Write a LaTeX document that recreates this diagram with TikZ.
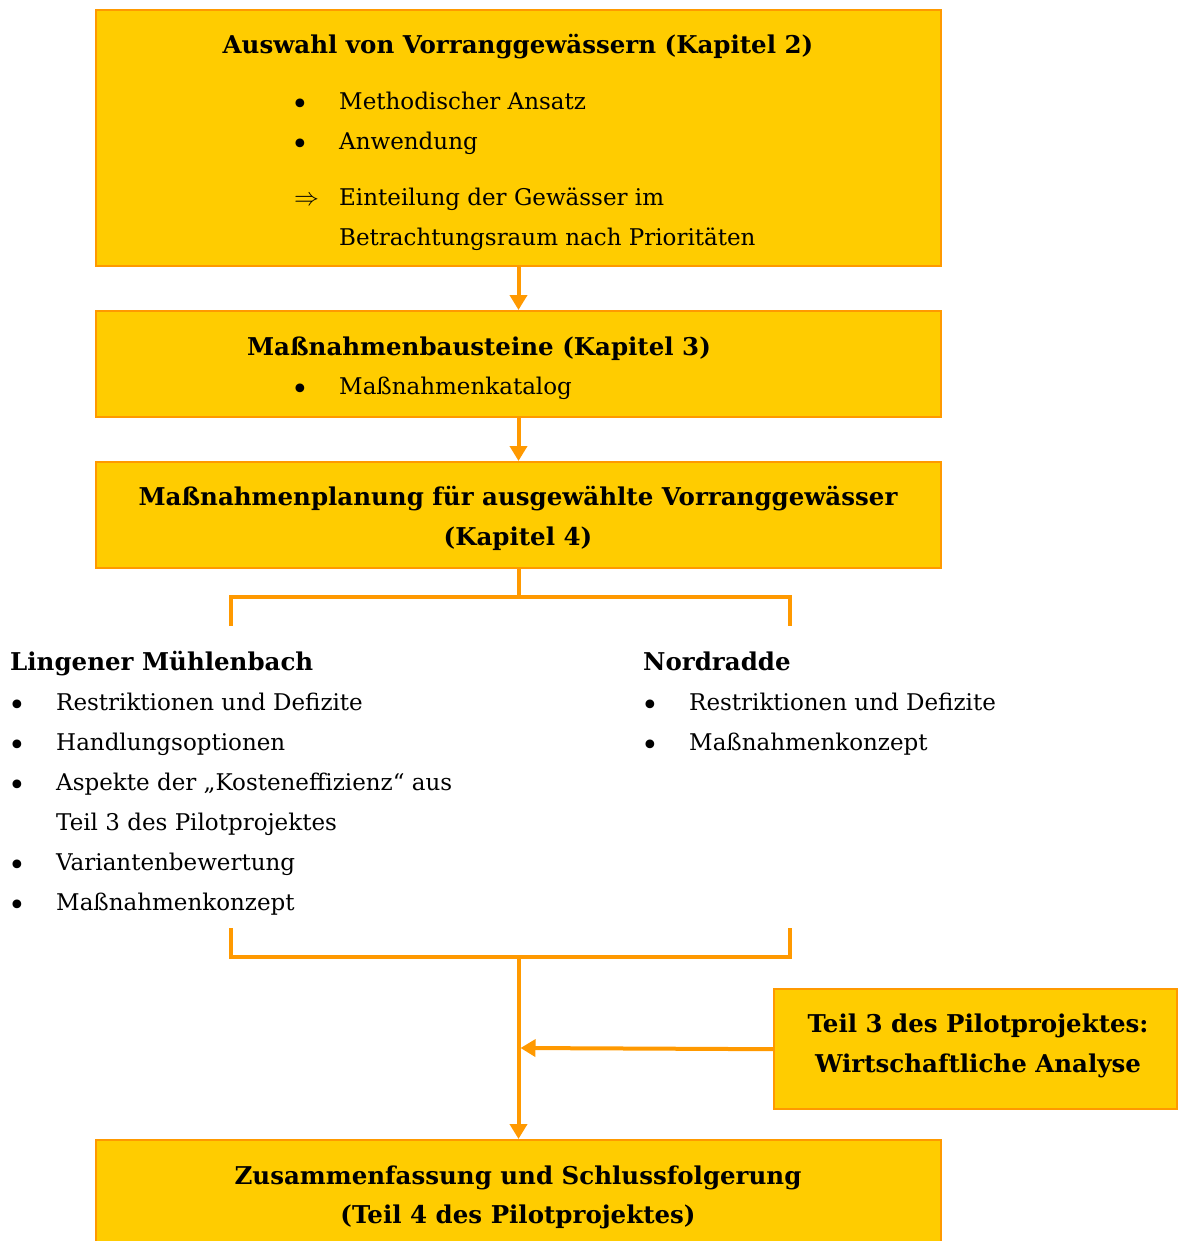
\documentclass[tikz,border=0pt]{standalone}
\usepackage{fontspec}
\setmainfont{DejaVu Serif}
\usetikzlibrary{arrows.meta,positioning}
\definecolor{boxyellow}{HTML}{FFCC00}
\definecolor{lineorange}{HTML}{FF9900}

\begin{document}
\begin{tikzpicture}[x=1pt,y=-1pt,
    box/.style={rectangle, draw=lineorange, fill=boxyellow, line width=2.4pt, anchor=north, inner sep=0pt},
    txt/.style={font=\fontsize{23}{27}\selectfont, anchor=mid west, inner sep=0pt, yshift=-6pt},
    head/.style={font=\fontsize{24.5}{29}\selectfont\bfseries, anchor=mid, inner sep=0pt, yshift=-6pt},
    bul/.style={font=\fontsize{30}{34}\selectfont, anchor=mid, inner sep=0pt, yshift=-11pt},
    conn/.style={draw=lineorange, line width=4pt},
    arrow/.style={conn, -{Triangle[width=17pt,length=15pt]}}
]
\useasboundingbox (0,0) rectangle (1177,1241);

\node[box, minimum width=845pt, minimum height=256pt] (auswahl) at (518.5,9) {};
\node[box, minimum width=845pt, minimum height=106pt] (bausteine) at (518.5,310) {};
\node[box, minimum width=845pt, minimum height=106pt] (planung) at (518.5,461) {};
\node[box, minimum width=403pt, minimum height=120pt] (teil3) at (975.5,988) {};
\node[box, minimum width=845pt, minimum height=120pt] (fazit) at (518.5,1139) {};

\node[head] (auswahlT) at (518,45) {Auswahl von Vorranggewässern (Kapitel 2)};
\node[bul] (a1b) at (300,101) {•};
\node[txt] (a1) at (339,101) {Methodischer Ansatz};
\node[bul] (a2b) at (300,141) {•};
\node[txt] (a2) at (339,141) {Anwendung};
\node[txt, font=\fontsize{23}{27}\selectfont] (a3b) at (294,197) {$\Rightarrow$};
\node[txt] (a3) at (339,197) {Einteilung der Gewässer im};
\node[txt] (a4) at (339,237) {Betrachtungsraum nach Prioritäten};

\node[head] (bausteineT) at (479,347) {Maßnahmenbausteine (Kapitel 3)};
\node[bul] (b1b) at (300,386) {•};
\node[txt] (b1) at (339,386) {Maßnahmenkatalog};

\node[head] (planungT) at (518,497) {Maßnahmenplanung für ausgewählte Vorranggewässer};
\node[head] (planungK) at (518,537) {(Kapitel 4)};

\node[head, anchor=mid west] (lingen) at (10,662) {Lingener Mühlenbach};
\node[bul] (l1b) at (17,702) {•};
\node[txt] (l1) at (56,702) {Restriktionen und Defizite};
\node[bul] (l2b) at (17,742) {•};
\node[txt] (l2) at (56,742) {Handlungsoptionen};
\node[bul] (l3b) at (17,782) {•};
\node[txt] (l3) at (56,782) {Aspekte der „Kosteneffizienz“ aus};
\node[txt] (l4) at (56,822) {Teil 3 des Pilotprojektes};
\node[bul] (l5b) at (17,862) {•};
\node[txt] (l5) at (56,862) {Variantenbewertung};
\node[bul] (l6b) at (17,902) {•};
\node[txt] (l6) at (56,902) {Maßnahmenkonzept};

\node[head, anchor=mid west] (nord) at (643,662) {Nordradde};
\node[bul] (n1b) at (650,702) {•};
\node[txt] (n1) at (689,702) {Restriktionen und Defizite};
\node[bul] (n2b) at (650,742) {•};
\node[txt] (n2) at (689,742) {Maßnahmenkonzept};

\node[head] (teil3T) at (978,1024) {Teil 3 des Pilotprojektes:};
\node[head] (teil3A) at (978,1064) {Wirtschaftliche Analyse};

\node[head] (fazitT) at (518,1176) {Zusammenfassung und Schlussfolgerung};
\node[head] (fazitP) at (518,1215) {(Teil 4 des Pilotprojektes)};

\coordinate (split) at (518.5,597);
\coordinate (splitL) at (231,597);
\coordinate (splitR) at (790,597);
\coordinate (endL) at (231,626);
\coordinate (endR) at (790,626);
\coordinate (joinL) at (231,928);
\coordinate (joinR) at (790,928);
\coordinate (join) at (518.5,957);
\coordinate (meet) at (520.5,1048);

\draw[arrow] (auswahl.south) -- (bausteine.north);
\draw[arrow] (bausteine.south) -- (planung.north);
\draw[conn] (planung.south) -- (split);
\draw[conn] (endL) -- (splitL) -- (splitR) -- (endR);
\draw[conn] (joinL) |- (join) -| (joinR);
\draw[arrow] (join) -- (fazit.north);
\draw[arrow] (teil3.west) -- (meet);

\end{tikzpicture}
\end{document}
